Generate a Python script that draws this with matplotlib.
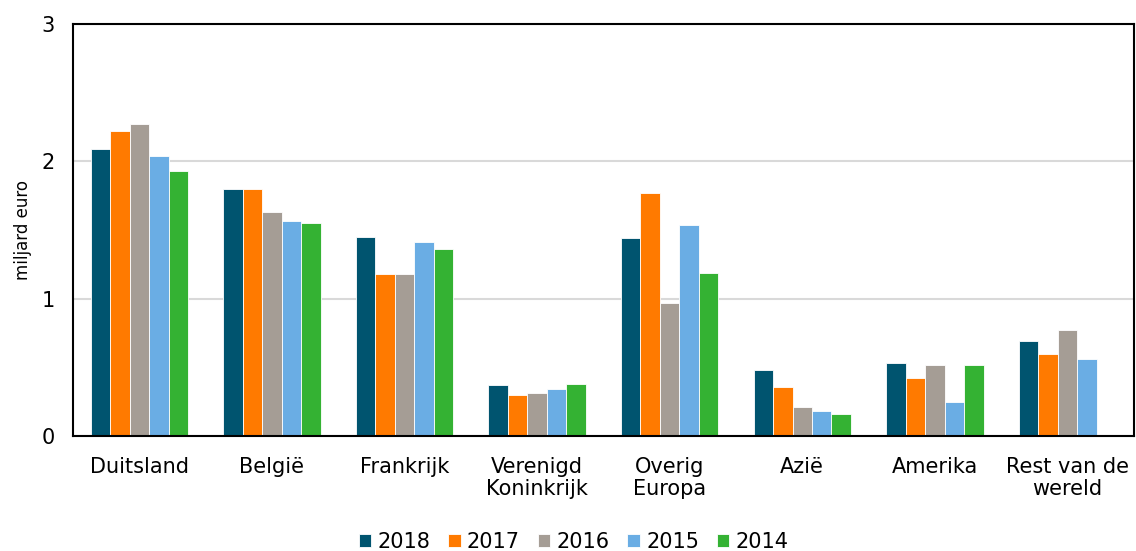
import matplotlib
matplotlib.use("Agg")
import matplotlib.pyplot as plt
import numpy as np

categories = ["Duitsland", "België", "Frankrijk", "Verenigd\nKoninkrijk", "Overig\nEuropa",
              "Azië", "Amerika", "Rest van de\nwereld"]
years = ["2018", "2017", "2016", "2015", "2014"]
v2018 = [2.09, 1.80, 1.45, 0.37, 1.44, 0.48, 0.53, 0.69]
v2017 = [2.22, 1.80, 1.18, 0.30, 1.77, 0.36, 0.42, 0.60]
v2016 = [2.27, 1.63, 1.18, 0.31, 0.97, 0.21, 0.52, 0.77]
v2015 = [2.04, 1.57, 1.41, 0.34, 1.54, 0.18, 0.25, 0.56]
v2014 = [1.93, 1.55, 1.36, 0.38, 1.19, 0.16, 0.52, np.nan]
colors = ["#00546F", "#FF7A00", "#A59D95", "#6AADE4", "#34B233"]

series = [v2018, v2017, v2016, v2015, v2014]

fig = plt.figure(figsize=(11.36, 5.51), dpi=100)
ax = fig.add_axes([0.0643, 0.2087, 0.9337, 0.7473])

x = np.arange(len(categories))
w = 0.147
for i, (vals, c, yr) in enumerate(zip(series, colors, years)):
    ax.bar(x + (i - 2) * w, vals, width=w, color=c, label=yr,
           edgecolor="white", linewidth=0.6, zorder=3)

ax.set_xlim(-0.5, len(categories) - 0.5)
ax.set_ylim(0, 3)
ax.set_yticks([0, 1, 2, 3])
ax.set_yticklabels(["0", "1", "2", "3"], fontsize=15)
ax.set_xticks(x)
ax.set_xticklabels(categories, fontsize=15, linespacing=1.15)
ax.tick_params(axis="both", length=0)
ax.tick_params(axis="y", pad=13)
ax.tick_params(axis="x", pad=15)
ax.grid(axis="y", color="#D9D9D9", linewidth=1.5, zorder=0)
for s in ax.spines.values():
    s.set_color("black")
    s.set_linewidth(1.5)
ax.spines["bottom"].set_zorder(4)
ax.set_ylabel("miljard euro", fontsize=12, labelpad=7)

leg = fig.legend(loc="lower center", bbox_to_anchor=(0.505, -0.035), ncol=5, frameon=False,
                 fontsize=15, handlelength=0.6, handleheight=0.6, handletextpad=0.3,
                 columnspacing=0.85)

fig.savefig("out.png", dpi=100)
